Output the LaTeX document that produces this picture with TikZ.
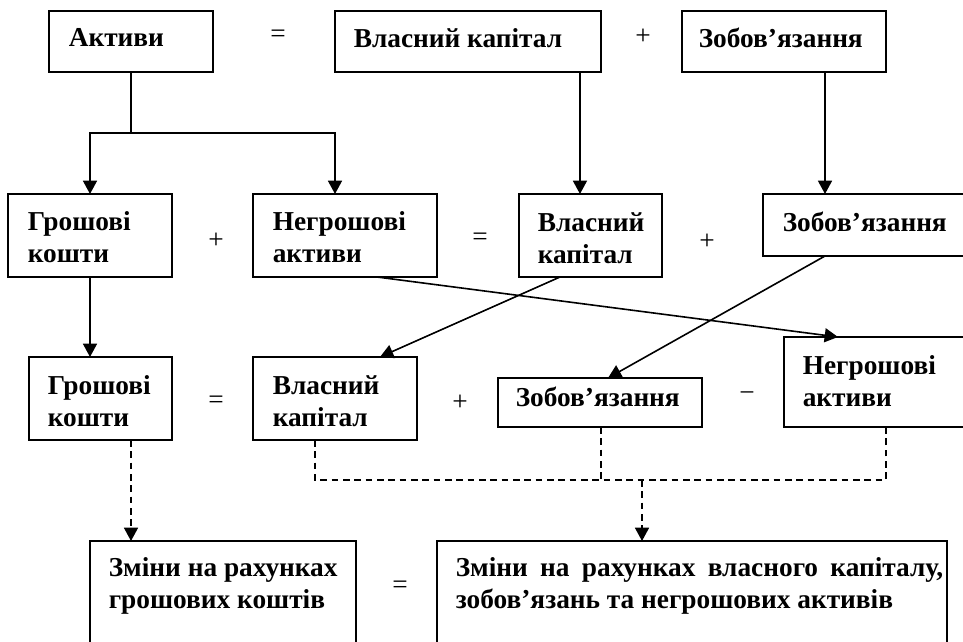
\documentclass[tikz,border=0pt]{standalone}
\usepackage{fontspec}
\setmainfont{Liberation Serif}
\usetikzlibrary{arrows.meta}

\tikzset{every picture/.style={line width=1.2pt}}
\tikzset{
  box/.style={draw, rectangle, anchor=north west, inner sep=0pt, outer sep=0pt},
  lbl/.style={anchor=north west, inner sep=0pt, align=left, font=\bfseries\fontsize{20.5}{24}\selectfont},
  op/.style={anchor=center, inner sep=0pt, font=\fontsize{20.5}{24}\selectfont},
  tri/.style={-{Triangle[length=10pt,width=10.5pt]}},
  dsh/.style={dash pattern={on 5pt off 3.5pt}}
}

\begin{document}
\begin{tikzpicture}[x=0.75pt,y=0.75pt,yscale=-1,xscale=1]
\useasboundingbox (0,0) rectangle (963,642);
\clip (0,0) rectangle (963,642);

%Shape: Rectangle [row 1]
\node [box, minimum width=123pt, minimum height=45.75pt] (aktyvy) at (49,11) {};
\node [box, minimum width=199.5pt, minimum height=45.75pt] (vkA) at (335,11) {};
\node [box, minimum width=153pt, minimum height=45.75pt] (zobA) at (682,11) {};
%Shape: Rectangle [row 2]
\node [box, minimum width=123pt, minimum height=62.25pt] (gkB) at (8,194) {};
\node [box, minimum width=138pt, minimum height=62.25pt] (ngB) at (253,194) {};
\node [box, minimum width=107.25pt, minimum height=62.25pt] (vkB) at (519,194) {};
\node [box, minimum width=180pt, minimum height=46.5pt] (zobB) at (763,194) {};
%Shape: Rectangle [row 3]
\node [box, minimum width=107.25pt, minimum height=62.25pt] (gkC) at (29,357) {};
\node [box, minimum width=123pt, minimum height=62.25pt] (vkC) at (253,357) {};
\node [box, minimum width=153pt, minimum height=36.75pt] (zobC) at (498,378) {};
\node [box, minimum width=165pt, minimum height=67.5pt] (ngC) at (784,337) {};
%Shape: Rectangle [row 4]
\node [box, minimum width=199.5pt, minimum height=120pt] (chgL) at (90,541) {};
\node [box, minimum width=382.5pt, minimum height=120pt] (chgR) at (437,541) {};

%Straight Lines [assets split]
\coordinate (split) at (131,133);
\draw (aktyvy.south) -- (split);
\draw [tri] (split) -| (gkB.north);
\draw [tri] (split) -| ([xshift=-7.5pt]ngB.north);
%Straight Lines [row 1 -> row 2]
\coordinate (vkBin) at ([xshift=-7.9pt]vkB.north);
\draw [tri] (vkA.south -| vkBin) -- (vkBin);
\coordinate (zobBin) at ([xshift=46.5pt]zobB.north west);
\draw [tri] (zobA.south -| zobBin) -- (zobBin);
%Straight Lines [row 2 -> row 3]
\draw [tri] (gkB.south) -- (gkB.south |- gkC.north);
\draw [tri] ([xshift=93pt]ngB.south west) -- ([xshift=40.5pt]ngC.north west);
\draw [tri] ([xshift=30.75pt]vkB.south west) -- ([xshift=95.25pt]vkC.north west);
\draw [tri] ([xshift=46.5pt]zobB.south west) -- ([xshift=82.5pt]zobC.north west);
%Straight Lines [row 3 -> row 4, dashed]
\coordinate (gkCout) at ([xshift=76.5pt]gkC.south west);
\draw [dsh, tri] (gkCout) -- (gkCout |- chgL.north);
\coordinate (vkCout) at ([xshift=46.5pt]vkC.south west);
\coordinate (zobCout) at ([xshift=77.25pt]zobC.south west);
\coordinate (ngCout) at ([xshift=76.5pt]ngC.south west);
\coordinate (chgRin) at ([xshift=153.75pt]chgR.north west);
\coordinate (merge) at (642,480);
\draw [dsh] (vkCout) |- (merge -| ngCout) -- (ngCout);
\draw [dsh] (zobCout) -- (zobCout |- merge);
\draw [dsh, tri] (merge) -- (chgRin);

% Text Node
\node [lbl] (tAktyvy) at (68,27.5) {Активи};
\node [lbl] (tVkA) at (353,27.5) {Власний капітал};
\node [lbl] (tZobA) at (698,27.5) {Зобов’язання};
\node [lbl] (tGkB) at (27,210.5) {Грошові\\кошти};
\node [lbl] (tNgB) at (272,210.5) {Негрошові\\активи};
\node [lbl] (tVkB) at (537,211.5) {Власний\\капітал};
\node [lbl] (tZobB) at (782,211.5) {Зобов’язання};
\node [lbl] (tGkC) at (47,374.5) {Грошові\\кошти};
\node [lbl] (tVkC) at (272,374.5) {Власний\\капітал};
\node [lbl] (tZobC) at (515,386.5) {Зобов’язання};
\node [lbl] (tNgC) at (802,354.5) {Негрошові\\активи};
\node [lbl] (tChgL) at (108,556.5) {Зміни на рахунках\\грошових коштів};
\node [lbl] (tChgR) at (455,556.5) {{\spaceskip=0.45em Зміни на рахунках власного капіталу,}\\зобов’язань та негрошових активів};

% Text Node [operators]
\node [op] (eqA) at (278,36) {=};
\node [op] (plA) at (643,37) {+};
\node [op] (plB1) at (216,241) {+};
\node [op] (eqB) at (480,239) {=};
\node [op] (plB2) at (707,242) {+};
\node [op] (eqC) at (216,402) {=};
\node [op] (plC) at (460,403) {+};
\node [op] (miC) at (747,397) {−};
\node [op] (eqD) at (400,587) {=};

\end{tikzpicture}
\end{document}
